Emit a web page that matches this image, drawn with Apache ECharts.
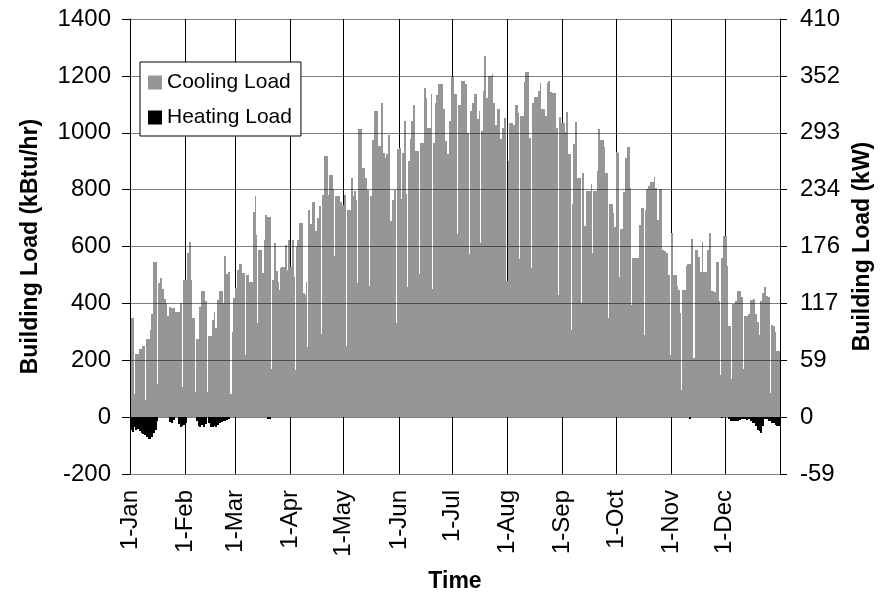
<!DOCTYPE html>
<html>
<head>
<meta charset="utf-8">
<title>Building Load</title>
<script src="https://cdn.jsdelivr.net/npm/echarts@6/dist/echarts.min.js"></script>
<style>
  html, body { margin: 0; padding: 0; background: #ffffff; }
  #chart { width: 882px; height: 598px; }
</style>
</head>
<body>
<div id="chart"></div>
<script>
// Day-of-year (0-based) where each month starts, and its axis label
const monthStarts = [0, 31, 59, 90, 120, 151, 181, 212, 243, 273, 304, 334];
const monthLabels = ['1-Jan', '1-Feb', '1-Mar', '1-Apr', '1-May', '1-Jun',
                     '1-Jul', '1-Aug', '1-Sep', '1-Oct', '1-Nov', '1-Dec'];

// Daily peak cooling load, kBtu/hr (one value per day, Jan 1 .. Dec 31)
const coolingPeak = [
  // Jan
  347, 347, 347, 223, 223, 241, 241, 249, 249, 274, 274, 306, 362, 546, 546, 461,
  473, 490, 449, 417, 400, 355, 388, 382, 382, 370, 370, 370, 402, 429, 482,
  // Feb
  482, 576, 616, 482, 347, 347, 274, 274, 388, 443, 443, 409, 365, 285, 285, 341,
  368, 314, 412, 443, 443, 400, 567, 503, 509, 400, 300, 420,
  // Mar
  453, 517, 539, 539, 506, 506, 500, 500, 476, 476, 720, 776, 641, 588, 588, 506,
  623, 711, 703, 703, 506, 482, 614, 515, 476, 523, 529, 529, 606, 517, 623,
  // Apr
  529, 623, 494, 600, 623, 682, 682, 435, 429, 476, 729, 680, 755, 755, 653, 700,
  741, 741, 782, 920, 920, 782, 850, 850, 803, 776, 776, 776, 755, 747,
  // May
  782, 782, 729, 729, 841, 776, 794, 765, 1012, 1012, 877, 877, 841, 800, 708, 776,
  976, 1076, 1076, 953, 953, 1103, 929, 912, 924, 991, 688, 765, 800, 800, 944,
  // Jun
  947, 766, 930, 1041, 784, 900, 977, 1041, 1099, 936, 936, 936, 963, 963, 1158,
  1123, 1018, 1018, 1138, 963, 1103, 1131, 1170, 1170, 1170, 1082, 971, 924, 1041, 1197,
  // Jul
  1197, 1138, 1138, 1096, 1096, 1181, 1181, 1170, 998, 998, 1076, 1105, 1138, 1138,
  1047, 1076, 1006, 1146, 1271, 1123, 1201, 1201, 1208, 1103, 1029, 1082, 1082, 977,
  1018, 1053, 951,
  // Aug
  900, 1033, 1033, 1029, 1096, 1096, 1068, 1059, 1059, 1179, 1212, 1212, 982, 982,
  1106, 1127, 1127, 1147, 1176, 1082, 1082, 1059, 1176, 1181, 1145, 1141, 1141, 1018,
  1018, 1056, 1035,
  // Sep
  1035, 1002, 1074, 927, 927, 751, 959, 1038, 841, 841, 782, 859, 671, 794, 794, 794,
  821, 794, 794, 865, 1012, 976, 976, 950, 858, 858, 750, 750, 717, 670,
  // Oct
  934, 930, 661, 661, 793, 910, 950, 950, 805, 559, 559, 559, 559, 676, 735, 735,
  727, 801, 813, 828, 828, 846, 805, 694, 801, 801, 589, 583, 577, 501, 501,
  // Nov
  647, 501, 501, 460, 448, 366, 448, 448, 530, 539, 539, 627, 615, 586, 586, 562,
  509, 617, 509, 509, 586, 648, 445, 445, 439, 545, 545, 409, 559, 636,
  // Dec
  636, 533, 321, 321, 398, 398, 409, 445, 445, 421, 421, 356, 356, 362, 413, 413,
  415, 362, 333, 288, 409, 436, 456, 427, 421, 421, 323, 321, 298, 233, 233
];

// Overnight / weekend lows that drop well below the day's peak: [day, kBtu/hr]
const coolingDips = [
  [2, 82], [8, 61], [15, 118], [29, 106], [36, 88], [43, 88], [56, 82],
  [64, 218], [71, 332], [79, 170], [83, 447], [92, 165], [99, 247], [107, 294],
  [114, 565], [121, 250], [127, 471], [134, 461], [149, 332], [155, 456], [162, 503],
  [169, 450], [183, 643], [190, 573], [196, 611], [211, 479], [218, 557], [225, 526],
  [240, 430], [247, 308], [253, 400], [259, 577], [268, 349], [274, 491], [281, 395],
  [288, 290], [303, 220], [309, 97], [316, 209], [331, 147], [337, 133], [344, 168],
  [359, 84]
];

// Daily peak heating load, kBtu/hr (negative = heating)
const heatingPeak = [
  // Jan
  -45, -53, -35, -47, -40, -50, -55, -59, -62, -70, -76, -77, -70, -55, -45, -15,
  0, 0, 0, 0, 0, 0, -18, -21, -10, 0, 0, -25, -35, -30, -28,
  // Feb
  -20, 0, 0, 0, 0, 0, -12, -30, -35, -28, -35, -25, 0, -20, -33, -35,
  -30, -35, -28, -21, -18, -15, -12, -10, -5, 0, 0, 0,
  // Mar
  0, 0, 0, 0, 0, 0, 0, 0, 0, 0, 0, 0, 0, 0, 0, 0, 0, 0, -6, -8, 0, 0, 0, 0, 0, 0, 0, 0, 0, 0, 0,
  // Apr
  0, 0, 0, 0, 0, 0, 0, 0, 0, 0, 0, 0, 0, 0, 0, 0, 0, 0, 0, 0, 0, 0, 0, 0, 0, 0, 0, 0, 0, 0,
  // May
  0, 0, 0, 0, 0, 0, 0, 0, 0, 0, 0, 0, 0, 0, 0, 0, 0, 0, 0, 0, 0, 0, 0, 0, 0, 0, 0, 0, 0, 0, 0,
  // Jun
  0, 0, 0, 0, 0, 0, 0, 0, 0, 0, 0, 0, 0, 0, 0, 0, 0, 0, 0, 0, 0, 0, 0, 0, 0, 0, 0, 0, 0, 0,
  // Jul
  0, 0, 0, 0, 0, 0, 0, 0, 0, 0, 0, 0, 0, 0, 0, 0, 0, 0, 0, 0, 0, 0, 0, 0, 0, 0, 0, 0, 0, 0, 0,
  // Aug
  0, 0, 0, 0, 0, 0, 0, 0, 0, 0, 0, 0, 0, 0, 0, 0, 0, 0, 0, 0, 0, 0, 0, 0, 0, 0, 0, 0, 0, 0, 0,
  // Sep
  0, 0, 0, 0, 0, 0, 0, 0, 0, 0, 0, 0, 0, 0, 0, 0, 0, 0, 0, 0, 0, 0, 0, 0, 0, 0, 0, 0, 0, 0,
  // Oct
  0, 0, 0, 0, 0, 0, 0, 0, 0, 0, 0, 0, 0, 0, 0, 0, 0, 0, 0, 0, 0, 0, 0, 0, 0, 0, 0, 0, 0, 0, 0,
  // Nov
  0, 0, 0, 0, 0, 0, 0, 0, 0, 0, -5, 0, 0, 0, 0, 0, 0, 0, 0, 0, 0, 0, 0, 0, 0, 0, 0, 0, -4, 0,
  // Dec
  0, 0, -5, -12, -14, -14, -14, -14, -10, -8, -8, -8, -10, -8, -12, -20,
  -20, -30, -44, -50, -55, -32, -8, -5, -14, -14, -20, -20, -28, -32, -32
];

// 1 kBtu/hr expressed in kW (right-hand axis)
const KW_PER_KBTUH = 0.29307;
const Y_MIN = -200;
const Y_MAX = 1400;
const Y_STEP = 200;
const DIP_START = 0.4;   // fraction of the day after which a low takes over

// Daily values -> [fromDay, toDay, load] segments (peak, then the low if there is one)
function segments(daily, dips) {
  const dipByDay = new Map(dips.map(([d, v]) => [d, v]));
  const out = [];
  daily.forEach((v, d) => {
    if (dipByDay.has(d)) {
      out.push([d, d + DIP_START, v]);
      out.push([d + DIP_START, d + 1, dipByDay.get(d)]);
    } else {
      out.push([d, d + 1, v]);
    }
  });
  return out.filter(s => s[2] !== 0);
}

const coolingSegments = segments(coolingPeak, coolingDips);
const heatingSegments = segments(heatingPeak, []);

// Each segment is a block from the zero line to its load, snapped to whole pixels
function blockRenderer(fill) {
  return (params, api) => {
    const a = api.coord([api.value(0), 0]);
    const b = api.coord([api.value(1), api.value(2)]);
    const x0 = Math.round(a[0]);
    const x1 = Math.round(b[0]);
    const y0 = Math.round(Math.min(a[1], b[1]));
    const y1 = Math.round(Math.max(a[1], b[1]));
    return {
      type: 'rect',
      shape: { x: x0, y: y0, width: Math.max(x1 - x0, 0), height: y1 - y0 },
      style: { fill: fill }
    };
  };
}

const FONT = 'Liberation Sans, Arial, Helvetica, sans-serif';
const titleStyle = { fontFamily: FONT, fontSize: 23, fontWeight: 'bold', color: '#000' };
const chart = echarts.init(document.getElementById('chart'), null, { renderer: 'canvas' });

chart.setOption({
  animation: false,
  backgroundColor: '#ffffff',
  textStyle: { fontFamily: FONT, color: '#000' },
  grid: { left: 130, right: 102, top: 19, bottom: 124, containLabel: false },
  legend: {
    orient: 'vertical',
    left: 140,
    top: 62,
    padding: [10, 9, 8, 8],
    itemGap: 14,
    itemWidth: 14,
    itemHeight: 14,
    selectedMode: false,
    backgroundColor: '#ffffff',
    borderColor: '#000000',
    borderWidth: 1,
    z: 20,
    textStyle: { fontFamily: FONT, fontSize: 21, color: '#000' },
    data: [
      { name: 'Cooling Load', icon: 'rect', itemStyle: { color: '#969696' } },
      { name: 'Heating Load', icon: 'rect', itemStyle: { color: '#000000' } }
    ]
  },
  xAxis: {
    type: 'value',
    min: 0,
    max: 365,
    z: 0,
    name: 'Time',
    nameLocation: 'middle',
    nameGap: 96,
    nameTextStyle: titleStyle,
    axisLine: { show: false },
    axisTick: { show: false, customValues: monthStarts },
    axisLabel: {
      customValues: monthStarts,
      rotate: 90,
      margin: 16,
      fontSize: 24,
      fontFamily: FONT,
      color: '#000',
      formatter: v => monthLabels[monthStarts.indexOf(v)]
    },
    splitLine: { show: true, lineStyle: { color: '#000000', width: 1 } }
  },
  yAxis: [
    {
      type: 'value',
      position: 'left',
      min: Y_MIN,
      max: Y_MAX,
      interval: Y_STEP,
      z: 11,
      name: 'Building Load (kBtu/hr)',
      nameLocation: 'middle',
      nameGap: 88,
      nameTextStyle: titleStyle,
      axisLine: { show: true, lineStyle: { color: '#000', width: 1 } },
      axisTick: { show: true, inside: false, length: 8, lineStyle: { color: '#000' } },
      axisLabel: {
        margin: 19, fontSize: 24, fontFamily: FONT, color: '#000',
        formatter: v => String(v)
      },
      splitLine: { show: true, lineStyle: { color: 'rgba(0,0,0,0.5)', width: 1 } }
    },
    {
      type: 'value',
      position: 'right',
      min: Y_MIN,
      max: Y_MAX,
      interval: Y_STEP,
      z: 11,
      name: 'Building Load (kW)',
      nameLocation: 'middle',
      nameGap: 66,
      nameTextStyle: titleStyle,
      axisLine: { show: true, lineStyle: { color: '#000', width: 1 } },
      axisTick: { show: true, inside: false, length: 7, lineStyle: { color: '#000' } },
      axisLabel: {
        margin: 20, fontSize: 24, fontFamily: FONT, color: '#000',
        formatter: v => String(Math.round(v * KW_PER_KBTUH))
      },
      splitLine: { show: false }
    }
  ],
  series: [
    {
      name: 'Cooling Load',
      type: 'custom',
      z: 5,
      silent: true,
      color: '#969696',
      data: coolingSegments,
      encode: { x: [0, 1], y: 2 },
      renderItem: blockRenderer('#969696')
    },
    {
      name: 'Heating Load',
      type: 'custom',
      z: 5,
      silent: true,
      color: '#000000',
      data: heatingSegments,
      encode: { x: [0, 1], y: 2 },
      renderItem: blockRenderer('#000000')
    }
  ]
});
</script>
</body>
</html>
